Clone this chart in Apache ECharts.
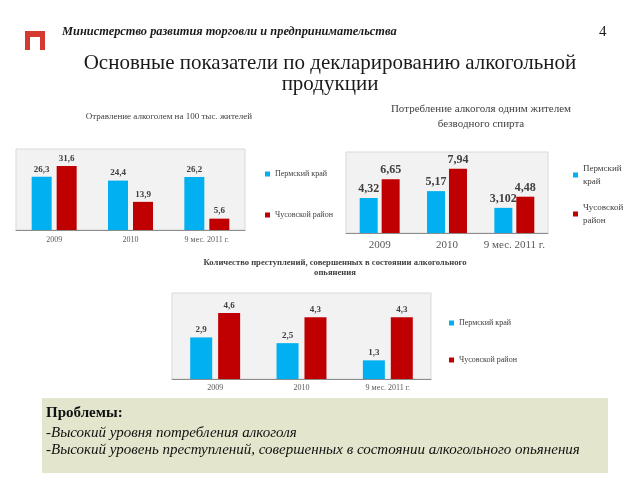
<!DOCTYPE html>
<html><head><meta charset="utf-8">
<script src="https://cdn.jsdelivr.net/npm/echarts@6/dist/echarts.min.js"></script>
<style>html,body{margin:0;padding:0;background:#fff}#c{width:640px;height:480px}</style>
</head><body><div id="c"></div>
<script>
const categories = ['2009', '2010', '9 мес. 2011 г.'];
const seriesNames = ['Пермский край', 'Чусовской район'];
const poisonPerm = [26.3, 24.4, 26.2];
const poisonChus = [31.6, 13.9, 5.6];
const consumePerm = [4.32, 5.17, 3.102];
const consumeChus = [6.65, 7.94, 4.48];
const crimePerm = [2.9, 2.5, 1.3];
const crimeChus = [4.6, 4.3, 4.3];

const BLUE = '#00b0f0', RED = '#c00000';
const SERIF = '"Liberation Serif", "DejaVu Serif", serif';
const chart = echarts.init(document.getElementById('c'), null, {renderer: 'canvas'});

function grid(left, top, width, height) {
  return {left, top, width, height, show: true, backgroundColor: '#f2f2f2', borderColor: '#d9d9d9', borderWidth: 1, containLabel: false};
}
function xAx(idx, fs, margin) {
  return {type: 'category', gridIndex: idx, data: categories,
    axisLine: {lineStyle: {color: '#8c8c8c', width: 1}}, axisTick: {show: false},
    axisLabel: {interval: 0, fontFamily: SERIF, fontSize: fs, color: '#595959', margin: margin}};
}
function yAx(idx, max) {
  return {type: 'value', gridIndex: idx, min: 0, max: max, show: false, splitLine: {show: false}};
}
function bar(name, data, idx, color, bw, gap, fs) {
  return {type: 'bar', name, data, xAxisIndex: idx, yAxisIndex: idx, barWidth: bw, barGap: gap,
    itemStyle: {color}, silent: true,
    label: {show: true, position: 'top', distance: 3, fontFamily: SERIF, fontWeight: 'bold', fontSize: fs, color: '#404040',
      formatter: p => String(p.value).replace('.', ',')}};
}
function legend(left, top, gap, fs, lh, fmt) {
  return {orient: 'vertical', left, top, itemGap: gap, itemWidth: 5, itemHeight: 5, icon: 'rect',
    data: seriesNames, selectedMode: false,
    formatter: fmt || (n => n),
    textStyle: {fontFamily: SERIF, fontSize: fs, color: '#404040', lineHeight: lh}};
}

const option = {
  animation: false,
  grid: [grid(16, 149, 229, 81), grid(346, 152, 202, 81), grid(172, 293, 259, 86)],
  xAxis: [xAx(0, 8, 6), xAx(1, 11, 7), xAx(2, 8, 5)],
  yAxis: [yAx(0, 40), yAx(1, 10), yAx(2, 6)],
  legend: [
    legend(260, 164, 31, 8, 10),
    legend(568, 157, 13, 9, 13, n => n.replace(' ', '\n')),
    legend(444, 313, 27, 8, 10)
  ],
  series: [
    bar(seriesNames[0], poisonPerm, 0, BLUE, 20, '25%', 9),
    bar(seriesNames[1], poisonChus, 0, RED, 20, '25%', 9),
    bar(seriesNames[0], consumePerm, 1, BLUE, 18, '22%', 12),
    bar(seriesNames[1], consumeChus, 1, RED, 18, '22%', 12),
    bar(seriesNames[0], crimePerm, 2, BLUE, 22, '27%', 9),
    bar(seriesNames[1], crimeChus, 2, RED, 22, '27%', 9)
  ],
  graphic: [
    {type: 'rect', shape: {x: 25, y: 31, width: 20, height: 19}, style: {fill: '#d43a30'}},
    {type: 'rect', shape: {x: 30, y: 37, width: 10, height: 14}, style: {fill: '#ffffff'}},
    {type: 'text', left: 62, top: 26, style: {text: 'Министерство развития торговли и предпринимательства', font: 'italic bold 12.4px ' + SERIF, fill: '#1a1a1a'}},
    {type: 'text', left: 599, top: 25, style: {text: '4', font: '15px ' + SERIF, fill: '#1a1a1a'}},
    {type: 'text', x: 330, y: 63, style: {text: 'Основные показатели по декларированию алкогольной', font: '21px ' + SERIF, fill: '#1a1a1a', textAlign: 'center', textVerticalAlign: 'middle'}},
    {type: 'text', x: 330, y: 84, style: {text: 'продукции', font: '21px ' + SERIF, fill: '#1a1a1a', textAlign: 'center', textVerticalAlign: 'middle'}},
    {type: 'text', x: 169, y: 117, style: {text: 'Отравление алкоголем на 100 тыс. жителей', font: '9px ' + SERIF, fill: '#404040', textAlign: 'center', textVerticalAlign: 'middle'}},
    {type: 'text', x: 481, y: 109, style: {text: 'Потребление алкоголя одним жителем', font: '11px ' + SERIF, fill: '#404040', textAlign: 'center', textVerticalAlign: 'middle'}},
    {type: 'text', x: 481, y: 124, style: {text: 'безводного спирта', font: '11px ' + SERIF, fill: '#404040', textAlign: 'center', textVerticalAlign: 'middle'}},
    {type: 'text', x: 335, y: 263, style: {text: 'Количество преступлений, совершенных в состоянии алкогольного', font: 'bold 8.6px ' + SERIF, fill: '#404040', textAlign: 'center', textVerticalAlign: 'middle'}},
    {type: 'text', x: 335, y: 273, style: {text: 'опьянения', font: 'bold 8.6px ' + SERIF, fill: '#404040', textAlign: 'center', textVerticalAlign: 'middle'}},
    {type: 'rect', shape: {x: 42, y: 398, width: 566, height: 75}, style: {fill: '#e3e6cc'}},
    {type: 'text', left: 46, top: 406, style: {text: 'Проблемы:', font: 'bold 15px ' + SERIF, fill: '#111'}},
    {type: 'text', left: 46, top: 426, style: {text: '-Высокий уровня потребления алкоголя', font: 'italic 15px ' + SERIF, fill: '#111'}},
    {type: 'text', left: 46, top: 443, style: {text: '-Высокий уровень преступлений, совершенных в состоянии алкогольного опьянения', font: 'italic 15px ' + SERIF, fill: '#111'}}
  ]
};
chart.setOption(option);
</script></body></html>
